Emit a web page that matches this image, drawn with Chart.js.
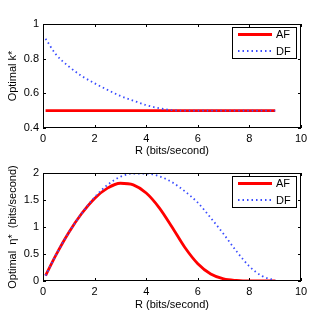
<!DOCTYPE html>
<html>
<head>
<meta charset="utf-8">
<script src="https://cdn.jsdelivr.net/npm/chart.js@4.4.1/dist/chart.umd.min.js"></script>
<style>
  body { margin: 0; background: #fff; }
  .box { position: absolute; left: 0; width: 332px; }
</style>
</head>
<body>
<div class="box" style="top:0;height:160px"><canvas id="topChart" width="332" height="160"></canvas></div>
<div class="box" style="top:160px;height:157px"><canvas id="bottomChart" width="332" height="157"></canvas></div>
<script>
// rate R (bits/second)
var rate = [0.1, 0.5, 1, 1.5, 2, 2.5, 3, 3.5, 4, 4.5, 5, 5.5, 6, 6.5, 7, 7.5, 8, 8.5, 9];
// optimal k*
var afK = [0.5, 0.5, 0.5, 0.5, 0.5, 0.5, 0.5, 0.5, 0.5, 0.5, 0.5, 0.5, 0.5, 0.5, 0.5, 0.5, 0.5, 0.5, 0.5];
var dfK = [0.915, 0.825, 0.755, 0.70, 0.658, 0.62, 0.585, 0.558, 0.532, 0.514, 0.503, 0.5, 0.5, 0.5, 0.5, 0.5, 0.5, 0.5, 0.5];
// optimal eta*
var afEta = [0.1, 0.48, 0.9, 1.25, 1.53, 1.72, 1.81, 1.78, 1.63, 1.36, 1.0, 0.62, 0.32, 0.13, 0.04, 0.01, 0.0, 0.0, 0.0];
var dfEta = [0.1, 0.48, 0.9, 1.25, 1.55, 1.78, 1.93, 1.99, 1.99, 1.94, 1.83, 1.66, 1.45, 1.17, 0.87, 0.55, 0.27, 0.09, 0.01];

var seriesNames = ['AF', 'DF'];
var xTicks = [0, 2, 4, 6, 8, 10];

Chart.defaults.font.family = '"Liberation Sans", Arial, sans-serif';
Chart.defaults.font.size = 11;
Chart.defaults.color = '#000';

function pts(ys) {
  return rate.map(function (x, i) { return { x: x, y: ys[i] }; });
}

// matlab-like box, inward ticks and boxed legend
var matlabBox = {
  id: 'matlabBox',
  afterDraw: function (chart) {
    var c = chart.ctx, a = chart.chartArea;
    var sx = chart.scales.x, sy = chart.scales.y;
    c.save();
    c.strokeStyle = '#000';
    c.lineWidth = 1;
    c.strokeRect(a.left + 0.5, a.top + 0.5, a.right - a.left - 1, a.bottom - a.top - 1);
    c.beginPath();
    sx.ticks.forEach(function (t) {
      var px = Math.round(sx.getPixelForValue(t.value)) + 0.5;
      c.moveTo(px, a.bottom); c.lineTo(px, a.bottom - 3);
      c.moveTo(px, a.top); c.lineTo(px, a.top + 3);
    });
    sy.ticks.forEach(function (t) {
      var py = Math.round(sy.getPixelForValue(t.value)) + 0.5;
      c.moveTo(a.left, py); c.lineTo(a.left + 3, py);
      c.moveTo(a.right, py); c.lineTo(a.right - 3, py);
    });
    c.stroke();

    // legend
    var lx = a.right - 69, ly = a.top + 3;
    c.fillStyle = '#fff';
    c.fillRect(lx, ly, 64, 31);
    c.strokeRect(lx + 0.5, ly + 0.5, 64, 31);
    chart.data.datasets.forEach(function (ds, i) {
      var yy = ly + 7.5 + i * 16.5;
      c.beginPath();
      c.strokeStyle = ds.borderColor;
      c.lineWidth = ds.borderWidth;
      c.setLineDash(ds.borderDash || []);
      c.moveTo(lx + 6, yy); c.lineTo(lx + 40, yy);
      c.stroke();
      c.setLineDash([]);
      c.fillStyle = '#000';
      c.font = '11px "Liberation Sans", Arial, sans-serif';
      c.textBaseline = 'middle';
      c.fillText(ds.label, lx + 44, yy + 0.5);
    });
    c.restore();
  }
};

function makeChart(id, af, df, yMin, yMax, yStep, yTitle, padTop, xHeight, xTitlePad) {
  return new Chart(document.getElementById(id), {
    type: 'line',
    data: {
      datasets: [
        { label: seriesNames[0], data: pts(af), borderColor: '#ff0000', borderWidth: 2.8,
          pointRadius: 0, cubicInterpolationMode: 'monotone', order: 2 },
        { label: seriesNames[1], data: pts(df), borderColor: '#3a4cff', borderWidth: 1.8,
          borderDash: [1.5, 3], pointRadius: 0, cubicInterpolationMode: 'monotone', order: 1 }
      ]
    },
    options: {
      responsive: false,
      animation: false,
      layout: { padding: { left: 0, right: 31, top: padTop, bottom: 0 } },
      plugins: { legend: { display: false }, tooltip: { enabled: false } },
      scales: {
        x: {
          type: 'linear', min: 0, max: 10,
          afterBuildTicks: function (s) { s.ticks = xTicks.map(function (v) { return { value: v }; }); },
          afterFit: function (s) { s.height = xHeight; },
          grid: { display: false, drawTicks: false },
          border: { display: false },
          ticks: { padding: 4, maxRotation: 0 },
          title: { display: true, text: 'R (bits/second)', padding: { top: 0, bottom: xTitlePad } }
        },
        y: {
          min: yMin, max: yMax,
          ticks: { stepSize: yStep, padding: 4, callback: function (v) { return String(Math.round(v * 10) / 10); } },
          afterFit: function (s) { s.width = 43; },
          grid: { display: false, drawTicks: false },
          border: { display: false },
          title: { display: true, text: yTitle, padding: { top: 6, bottom: 0 } }
        }
      }
    },
    plugins: [matlabBox]
  });
}

makeChart('topChart', afK, dfK, 0.4, 1, 0.2, 'Optimal k*', 24, 32, 2);
makeChart('bottomChart', afEta, dfEta, 0, 2, 0.5, 'Optimal  \u03b7*  (bits/second)', 13, 36, 5);
</script>
</body>
</html>
